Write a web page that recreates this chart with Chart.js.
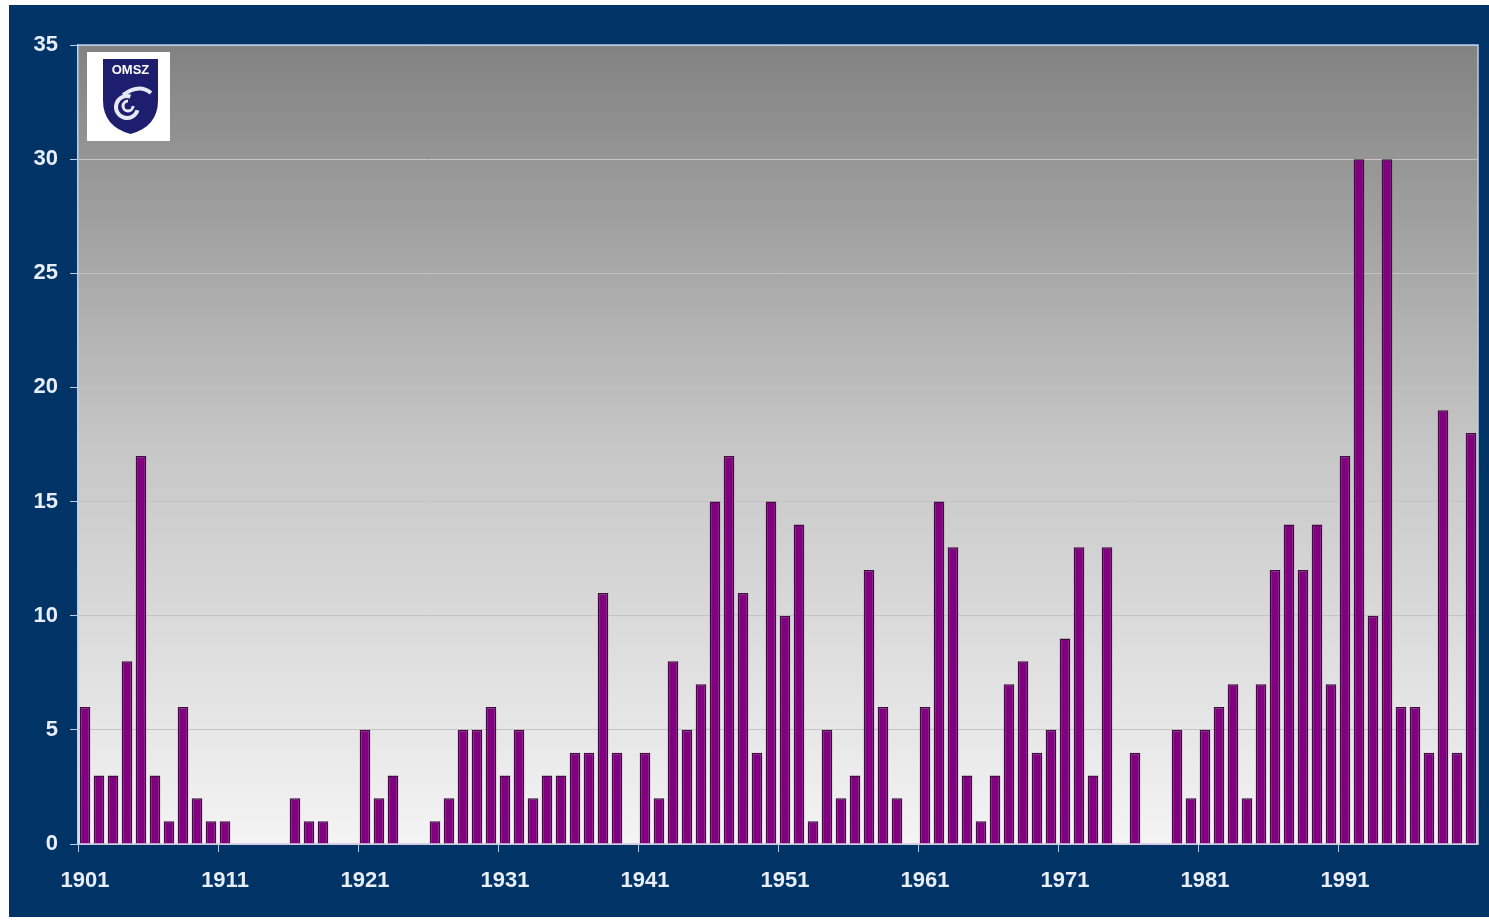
<!DOCTYPE html>
<html>
<head>
<meta charset="utf-8">
<script src="https://cdn.jsdelivr.net/npm/chart.js@4"></script>
<style>
  html, body { margin: 0; padding: 0; background: #fff; }
  #wrap { position: relative; width: 1489px; height: 921px; }
</style>
</head>
<body>
<div id="wrap"><canvas id="stormChart"></canvas></div>
<script>
// years 1901..2000
const years = [];
for (let y = 1901; y <= 2000; y++) years.push(String(y));

const counts = [
  6, 3, 3, 8, 17, 3, 1, 6, 2, 1,      // 1901-1910
  1, 0, 0, 0, 0, 2, 1, 1, 0, 0,       // 1911-1920
  5, 2, 3, 0, 0, 1, 2, 5, 5, 6,       // 1921-1930
  3, 5, 2, 3, 3, 4, 4, 11, 4, 0,      // 1931-1940
  4, 2, 8, 5, 7, 15, 17, 11, 4, 15,   // 1941-1950
  10, 14, 1, 5, 2, 3, 12, 6, 2, 0,    // 1951-1960
  6, 15, 13, 3, 1, 3, 7, 8, 4, 5,     // 1961-1970
  9, 13, 3, 13, 0, 4, 0, 0, 5, 2,     // 1971-1980
  5, 6, 7, 2, 7, 12, 14, 12, 14, 7,   // 1981-1990
  17, 30, 10, 30, 6, 6, 4, 19, 4, 18  // 1991-2000
];

const yTicks = [0, 5, 10, 15, 20, 25, 30, 35];

const navy = '#003366';
const labelColor = '#e8eef8';
const axisColor = '#b8cdf0';

// navy frame, gradient plot background and the OMSZ logo
const backdrop = {
  id: 'backdrop',
  beforeDraw(chart) {
    const ctx = chart.ctx;
    const a = chart.chartArea;
    ctx.save();
    ctx.fillStyle = '#ffffff';
    ctx.fillRect(0, 0, chart.width, chart.height);
    ctx.fillStyle = navy;
    ctx.fillRect(9, 5, chart.width - 9, chart.height - 9);
    const g = ctx.createLinearGradient(0, a.top, 0, a.bottom);
    g.addColorStop(0, '#828282');
    g.addColorStop(0.5, '#c6c6c6');
    g.addColorStop(1, '#f4f4f4');
    ctx.fillStyle = g;
    ctx.fillRect(a.left, a.top, a.right - a.left, a.bottom - a.top);
    ctx.restore();
  },
  beforeDatasetsDraw(chart) {
    const ctx = chart.ctx;
    const a = chart.chartArea;
    ctx.save();
    // plot frame
    ctx.strokeStyle = axisColor;
    ctx.lineWidth = 1.5;
    ctx.beginPath();
    ctx.moveTo(a.left, a.top);
    ctx.lineTo(a.right, a.top);
    ctx.lineTo(a.right, a.bottom);
    ctx.stroke();

    // logo
    const lx = a.left + 9, ly = a.top + 7;
    ctx.fillStyle = '#ffffff';
    ctx.fillRect(lx, ly, 83, 89);
    const sx = lx + 16, sy = ly + 7, sw = 55, sh = 75;
    ctx.fillStyle = '#1d1f6e';
    ctx.beginPath();
    ctx.moveTo(sx, sy);
    ctx.lineTo(sx + sw, sy);
    ctx.lineTo(sx + sw, sy + sh * 0.55);
    ctx.quadraticCurveTo(sx + sw, sy + sh * 0.9, sx + sw / 2, sy + sh);
    ctx.quadraticCurveTo(sx, sy + sh * 0.9, sx, sy + sh * 0.55);
    ctx.closePath();
    ctx.fill();
    ctx.fillStyle = '#ffffff';
    ctx.font = 'bold 13px "Liberation Sans", Arial, sans-serif';
    ctx.textAlign = 'center';
    ctx.textBaseline = 'middle';
    ctx.fillText('OMSZ', sx + sw / 2, sy + 11);
    // swirl
    ctx.strokeStyle = '#e8e8f4';
    ctx.lineWidth = 4;
    ctx.beginPath();
    ctx.arc(sx + 24, sy + 48, 11, 0.3, Math.PI * 1.6);
    ctx.stroke();
    ctx.lineWidth = 3;
    ctx.beginPath();
    ctx.arc(sx + 25, sy + 47, 5, 0, Math.PI * 1.5);
    ctx.stroke();
    ctx.lineWidth = 4;
    ctx.beginPath();
    ctx.moveTo(sx + 20, sy + 36);
    ctx.quadraticCurveTo(sx + 36, sy + 24, sx + 48, sy + 34);
    ctx.stroke();
    ctx.restore();
  }
};

const ctx = document.getElementById('stormChart').getContext('2d');
new Chart(ctx, {
  type: 'bar',
  data: {
    labels: years,
    datasets: [{
      label: 'count',
      data: counts,
      backgroundColor: '#800080',
      borderColor: '#420a42',
      borderWidth: 1.5,
      barPercentage: 0.76,
      categoryPercentage: 1.0
    }]
  },
  options: {
    responsive: true,
    maintainAspectRatio: false,
    animation: false,
    layout: { padding: { left: 9, top: 45, right: 11, bottom: 0 } },
    plugins: {
      legend: { display: false },
      tooltip: { enabled: false }
    },
    scales: {
      x: {
        afterFit(scale) { scale.height = 77; },
        grid: {
          offset: true,
          drawOnChartArea: false,
          tickLength: 8,
          tickColor: c => (c.index % 10 === 0 ? axisColor : 'rgba(0,0,0,0)')
        },
        border: { color: '#d8d0f0', width: 1.5 },
        ticks: {
          autoSkip: false,
          maxRotation: 0,
          padding: 16,
          color: labelColor,
          font: { family: '"Liberation Sans", Arial, sans-serif', size: 22, weight: 'bold' },
          callback: function (val, i) { return i % 10 === 0 ? years[i] : ''; }
        }
      },
      y: {
        min: 0,
        max: 35,
        afterFit(scale) { scale.width = 69; },
        afterBuildTicks(scale) { scale.ticks = yTicks.map(v => ({ value: v })); },
        grid: {
          color: '#c4c4c4',
          lineWidth: 1,
          tickLength: 8,
          tickColor: axisColor
        },
        border: { color: axisColor, width: 1.5 },
        ticks: {
          padding: 12,
          color: labelColor,
          font: { family: '"Liberation Sans", Arial, sans-serif', size: 22, weight: 'bold' }
        }
      }
    }
  },
  plugins: [backdrop]
});
</script>
</body>
</html>
